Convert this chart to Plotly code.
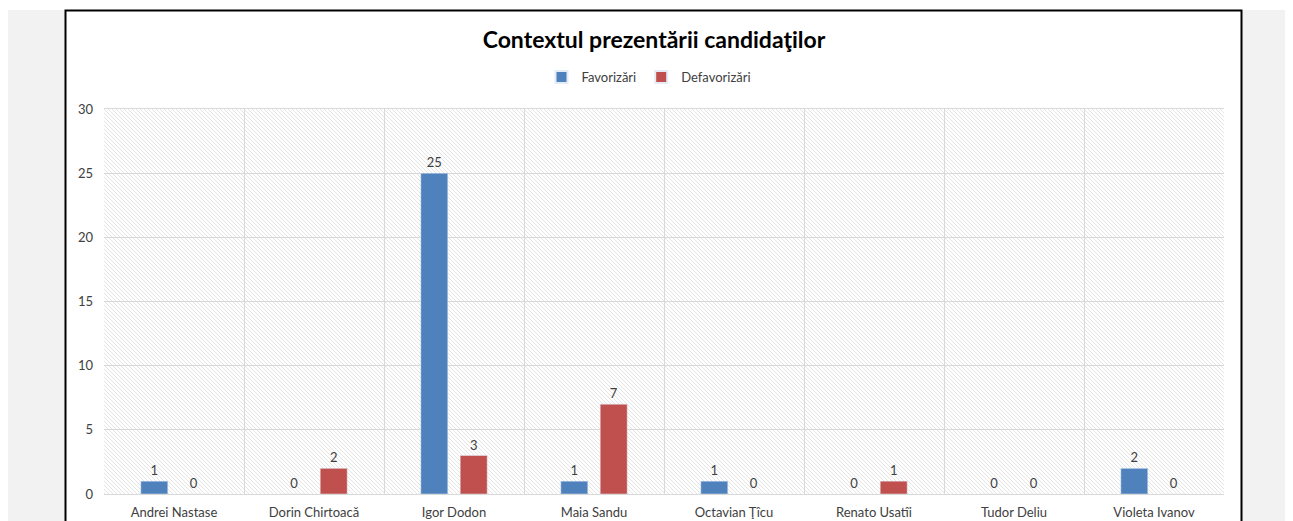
import base64
import plotly.graph_objects as go

categories = ["Andrei Nastase", "Dorin Chirtoacă", "Igor Dodon", "Maia Sandu",
              "Octavian Ţîcu", "Renato Usatîi", "Tudor Deliu", "Violeta Ivanov"]
favorizari = [1, 0, 25, 1, 1, 0, 0, 2]
defavorizari = [0, 2, 3, 7, 0, 1, 0, 0]
series_names = ["Favorizări", "Defavorizări"]
title_text = "Contextul prezentării candidaţilor"
y_ticks = [0, 5, 10, 15, 20, 25, 30]

OFF = 8  # page body margin
W, H = 1293 - OFF, 521 - OFF
L, R, T, B = 104 - OFF, 1224 - OFF, 109 - OFF, 494 - OFF
FONT = "Lato, 'Open Sans', sans-serif"

def px(p):  # page pixel -> paper x
    return (p - OFF - L) / (R - L)

def py(p):  # page pixel -> paper y
    return (B - (p - OFF)) / (B - T)

# diagonal hatch for the plot background
pw, ph = R - L, B - T
svg = (f'<svg xmlns="http://www.w3.org/2000/svg" width="{pw}" height="{ph}">'
       '<defs><pattern id="h" patternUnits="userSpaceOnUse" width="4" height="4">'
       '<path d="M-1,-1 L5,5 M-1,3 L1,5 M3,-1 L5,1" stroke="#e4e4e4" stroke-width="1"/>'
       '</pattern></defs>'
       f'<rect width="{pw}" height="{ph}" fill="white"/>'
       f'<rect width="{pw}" height="{ph}" fill="url(#h)"/></svg>')
hatch_src = "data:image/svg+xml;base64," + base64.b64encode(svg.encode()).decode()

fig = go.Figure()
fig.add_trace(go.Bar(x=categories, y=favorizari, name=series_names[0],
                     marker_color="#4F81BD", text=favorizari, textposition="outside",
                     textfont=dict(size=13, color="#404040", family=FONT), cliponaxis=False))
fig.add_trace(go.Bar(x=categories, y=defavorizari, name=series_names[1],
                     marker_color="#C0504D", text=defavorizari, textposition="outside",
                     textfont=dict(size=13, color="#404040", family=FONT), cliponaxis=False))

shapes = [
    dict(type="rect", xref="paper", yref="paper", x0=px(7), x1=px(66), y0=py(10), y1=py(540),
         fillcolor="#f2f2f2", line_width=0, layer="below"),
    dict(type="rect", xref="paper", yref="paper", x0=px(1242), x1=px(1310), y0=py(10), y1=py(540),
         fillcolor="#f2f2f2", line_width=0, layer="below"),
    dict(type="rect", xref="paper", yref="paper", x0=px(65.5), x1=px(1241.5), y0=py(10.5), y1=py(545),
         fillcolor="rgba(0,0,0,0)", line=dict(color="#000000", width=2), layer="above"),
]

fig.update_layout(
    width=W, height=H,
    margin=dict(l=L, r=W - R, t=T, b=H - B, autoexpand=False),
    paper_bgcolor="white", plot_bgcolor="rgba(0,0,0,0)",
    font=dict(family=FONT, color="#595959", size=13),
    title=dict(text=f"<b>{title_text}</b>", x=(654 - OFF) / W, xref="container", xanchor="center",
               y=1 - (40 - OFF) / H, yref="container", yanchor="middle",
               font=dict(size=23, color="#000000", family=FONT)),
    legend=dict(orientation="h", x=(649 - OFF) / W, xref="container", xanchor="center",
                y=1 - (77 - OFF) / H, yref="container", yanchor="middle",
                font=dict(size=13, color="#404040"), itemwidth=30,
                itemsizing="constant", tracegroupgap=0),
    barmode="group", bargap=0.437, bargroupgap=0.315,
    showlegend=True,
    shapes=shapes,
    images=[dict(source=hatch_src, xref="paper", yref="paper", x=0, y=1, sizex=1, sizey=1,
                 xanchor="left", yanchor="top", sizing="stretch", layer="below")],
)
fig.update_xaxes(type="category", tickson="boundaries", showgrid=True, gridcolor="#d9d9d9",
                 gridwidth=1, showline=True, linecolor="#d9d9d9", linewidth=1, mirror=True,
                 ticks="", tickfont=dict(size=13, color="#404040"), ticklabelstandoff=6)
fig.update_yaxes(range=[0, 30], tickvals=y_ticks, showgrid=True, gridcolor="#d9d9d9",
                 gridwidth=1, zeroline=False, showline=False, ticks="",
                 tickfont=dict(size=13, color="#404040"), ticklabelstandoff=10)

fig.write_html("out.html")
